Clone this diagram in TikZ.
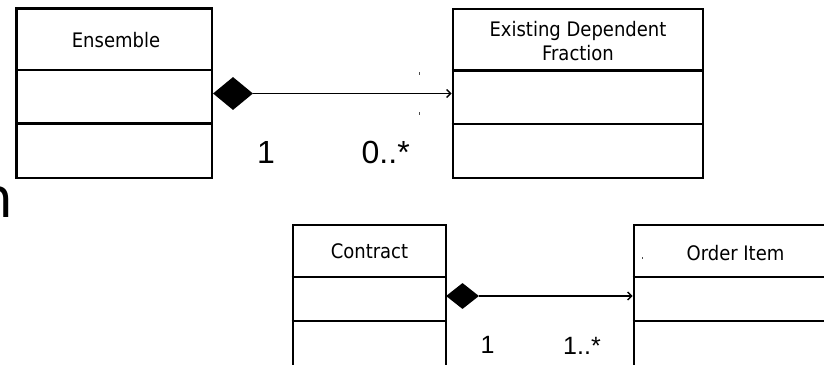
\documentclass[tikz,border=0pt]{standalone}
\usepackage{fontspec}
\setmainfont{DejaVu Sans Condensed}
\newfontfamily\labelfont{Liberation Sans}
\newfontfamily\bigfont{DejaVu Sans}
\usetikzlibrary{shapes.geometric,arrows.meta}
\begin{document}
\begin{tikzpicture}[x=1pt,y=-1pt,
  boxframe/.style={draw=black,line width=2.8pt,inner sep=0pt,rectangle},
  divider/.style={draw=black,line width=2.8pt},
  classname/.style={font=\fontsize{20}{24}\selectfont,inner sep=0pt,align=center},
  mult/.style={font=\labelfont\fontsize{#1}{#1}\selectfont,inner sep=0pt},
  comp/.style={diamond,fill=black,draw=none,inner sep=0pt},
  assoc/.style={draw=black,line width=1.4pt,-{Straight Barb[length=4pt,width=8pt,line width=1.4pt]}},
  tick/.style={fill=black!70,draw=none}]
\useasboundingbox (0,0) rectangle (824,364);
\clip (0,0) rectangle (824,364);
% partial large letter at the left edge
\node[font=\bigfont\fontsize{55}{60}\selectfont,inner sep=0pt,anchor=base east] (bign) at (14,217) {n};
% Ensemble
\node[boxframe,minimum width=195.5pt,minimum height=169.5pt] (ens) at (114.25,93.25) {};
\draw[divider] (ens.west |- 0,70) -- (ens.east |- 0,70);
\draw[divider] (ens.west |- 0,123.5) -- (ens.east |- 0,123.5);
\node[classname] (ensT) at (116,40) {Ensemble};
% Existing Dependent Fraction
\node[boxframe,minimum width=250pt,minimum height=169pt] (edf) at (578,93.5) {};
\draw[divider] (edf.west |- 0,70.5) -- (edf.east |- 0,70.5);
\draw[divider] (edf.west |- 0,124) -- (edf.east |- 0,124);
\node[classname] (edfT) at (578,41) {Existing Dependent\\Fraction};
% composition 1
\node[comp,minimum width=40pt,minimum height=33pt] (d1) at (233,93.5) {};
\draw[assoc] (d1.east) -- (d1.east -| edf.west);
\node[mult=32,anchor=base] (m1a) at (266,163) {1};
\node[mult=32,anchor=base west] (m1b) at (361.5,163) {0..*};
\fill[tick] (418.5,72) rectangle (419.5,75);
\fill[tick] (418.5,112) rectangle (419.5,115);
% Contract
\node[boxframe,minimum width=153pt,minimum height=155pt] (con) at (369.5,302.5) {};
\draw[divider] (con.west |- 0,277) -- (con.east |- 0,277);
\draw[divider] (con.west |- 0,321) -- (con.east |- 0,321);
\node[classname] (conT) at (369.5,251) {Contract};
% Order Item
\node[boxframe,minimum width=203pt,minimum height=155pt] (ord) at (735.5,302.5) {};
\draw[divider] (ord.west |- 0,277) -- (ord.east |- 0,277);
\draw[divider] (ord.west |- 0,321) -- (ord.east |- 0,321);
\node[classname] (ordT) at (735.5,253) {Order Item};
\fill[tick] (641.5,256.5) rectangle (642.5,259);
% composition 2
\node[comp,minimum width=33pt,minimum height=26pt] (d2) at (462.5,296) {};
\draw[assoc] (d2.east) -- (d2.east -| ord.west);
\node[mult=25,anchor=base] (m2a) at (487.5,353) {1};
\node[mult=25,anchor=base west] (m2b) at (563,354) {1..*};
\end{tikzpicture}
\end{document}
